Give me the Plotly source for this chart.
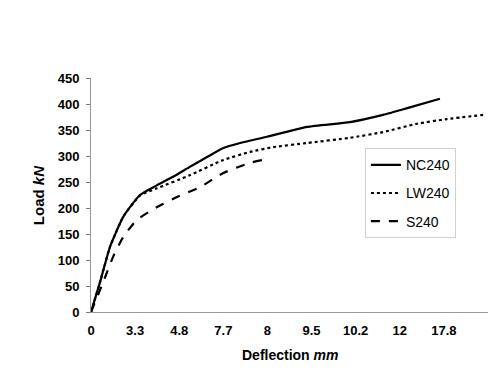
import plotly.graph_objects as go

# x positions are in category-index units (ticks evenly spaced)
tick_labels = ["0", "3.3", "4.8", "7.7", "8", "9.5", "10.2", "12", "17.8"]

nc_x = [0, 0.20, 0.43, 0.73, 1.11, 1.50, 1.86, 2.24, 2.63, 2.99, 3.38, 3.99, 4.90, 5.87, 6.62, 7.17, 7.91]
nc_y = [0, 56, 125, 183, 225, 244, 260, 279, 298, 315, 325, 337, 356, 365, 379, 392, 410]

lw_x = [0, 0.20, 0.43, 0.73, 1.11, 1.50, 2.24, 2.99, 3.61, 4.13, 4.90, 5.87, 6.62, 7.39, 8.07, 8.89]
lw_y = [0, 56, 125, 183, 224, 238, 263, 292, 308, 317, 325, 335, 346, 362, 371, 379]

s_x = [0, 0.27, 0.50, 0.73, 1.04, 1.50, 1.95, 2.47, 2.99, 3.61, 3.88]
s_y = [0, 56, 106, 144, 177, 202, 221, 240, 267, 287, 292]

FONT = "Liberation Sans, Arial, sans-serif"

fig = go.Figure()
fig.add_trace(go.Scatter(x=nc_x, y=nc_y, mode="lines", name="NC240", legendgroup="a",
                         line=dict(color="black", width=2.2, shape="spline", smoothing=0.5)))
fig.add_trace(go.Scatter(x=lw_x, y=lw_y, mode="lines", name="LW240", legendgroup="b",
                         line=dict(color="black", width=2.2, dash="dot", shape="spline", smoothing=0.5)))
fig.add_trace(go.Scatter(x=s_x, y=s_y, mode="lines", name="S240", legendgroup="c",
                         line=dict(color="black", width=2.2, dash="dash", shape="spline", smoothing=0.5)))

fig.update_layout(
    width=481, height=359,
    margin=dict(l=83, r=1, t=70, b=55, autoexpand=False),
    paper_bgcolor="white", plot_bgcolor="white",
    font=dict(family=FONT, color="black", size=12),
    showlegend=True,
    legend=dict(x=0.69, y=0.70, xanchor="left", yanchor="top",
                bgcolor="rgba(0,0,0,0)", bordercolor="#d0d0d0", borderwidth=1,
                font=dict(size=14, family=FONT), tracegroupgap=7),
    xaxis=dict(range=[0, 9], tickmode="array", tickvals=list(range(len(tick_labels))),
               ticktext=["<b>%s</b>" % t for t in tick_labels],
               automargin=False,
               showgrid=False, zeroline=False, showline=True, linecolor="#999999", linewidth=1,
               ticks="", tickfont=dict(size=13), ticklabelstandoff=6),
    yaxis=dict(range=[0, 450], tickmode="array", tickvals=list(range(0, 451, 50)),
               ticktext=["<b>%d</b>" % v for v in range(0, 451, 50)],
               automargin=False,
               showgrid=False, zeroline=False, showline=True, linecolor="#999999", linewidth=1,
               ticks="outside", ticklen=4, tickcolor="#777777", tickfont=dict(size=13),
               ticklabelstandoff=4),
    annotations=[
        dict(text="<b>Deflection <i>mm</i></b>", xref="paper", yref="paper", x=0.50, y=-0.184,
             xanchor="center", yanchor="middle", showarrow=False, font=dict(size=14, family=FONT)),
        dict(text="<b>Load <i>kN</i></b>", xref="paper", yref="paper", x=-0.133, y=0.5,
             xanchor="center", yanchor="middle", textangle=-90, showarrow=False,
             font=dict(size=15, family=FONT)),
    ],
)

fig.write_html("out.html")
